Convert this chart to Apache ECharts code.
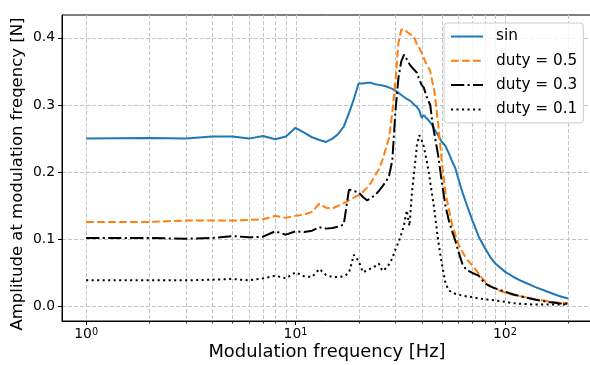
<!DOCTYPE html>
<html>
<head>
<meta charset="utf-8">
<script src="https://cdn.jsdelivr.net/npm/echarts@6/dist/echarts.min.js"></script>
<style>
html,body{margin:0;padding:0;background:#fff;}
#chart{width:590px;height:365px;}
</style>
</head>
<body>
<div id="chart"></div>
<script>
const freqs = [1,2,3,4,5,6,7,8,9,10,11,12,13,14,15,16,17,18,19,20,21,22,23,24,25,26,27,28,29,30,31,32,33,34,35,36,37,38,39,40,41,42,43,44,45,46,48,50,52,54,56,58,60,63,66,70,75,80,85,90,100,110,120,140,160,180,200];

const sinVals = [0.250,0.251,0.250,0.253,0.253,0.250,0.254,0.249,0.253,0.266,
  0.259,0.252,0.248,0.245,0.250,0.257,0.268,0.288,0.309,0.332,
  0.332,0.333,0.333,0.331,0.330,0.329,0.328,0.326,0.324,0.321,
  0.318,0.315,0.312,0.309,0.307,0.304,0.300,0.297,0.292,0.281,
  0.285,0.281,0.278,0.274,0.270,0.264,
  0.255,0.245,0.239,0.228,0.216,0.206,0.190,
  0.168,0.150,0.128,0.104,0.088,0.074,0.064,
  0.052,0.044,0.038,0.029,0.022,0.016,0.012];

const duty05 = [0.126,0.126,0.128,0.128,0.128,0.129,0.130,0.135,0.132,0.135,
  0.137,0.141,0.153,0.147,0.146,0.150,0.154,0.158,0.162,0.166,
  0.171,0.177,0.185,0.195,0.204,0.218,0.235,0.252,0.290,0.335,
  0.392,0.412,0.413,0.409,0.406,0.404,0.400,0.390,0.385,0.378,
  0.370,0.362,0.357,0.350,0.335,0.322,
  0.272,0.215,0.170,0.145,0.122,0.107,0.093,
  0.080,0.070,0.061,0.049,0.038,0.031,0.026,
  0.021,0.017,0.015,0.011,0.008,0.006,0.005];

const duty03 = [0.102,0.102,0.101,0.102,0.105,0.103,0.104,0.112,0.107,0.112,
  0.111,0.113,0.118,0.116,0.117,0.119,0.122,0.174,0.172,0.170,
  0.163,0.158,0.162,0.166,0.172,0.179,0.186,0.195,0.218,0.290,
  0.340,0.365,0.375,0.368,0.361,0.356,0.352,0.348,0.338,0.330,
  0.326,0.315,0.307,0.300,0.275,0.258,
  0.225,0.185,0.150,0.128,0.112,0.098,0.082,
  0.061,0.054,0.050,0.046,0.035,0.030,0.027,
  0.022,0.018,0.015,0.010,0.007,0.005,0.004];

const duty01 = [0.039,0.039,0.039,0.040,0.041,0.039,0.042,0.046,0.042,0.051,
  0.045,0.044,0.056,0.047,0.044,0.044,0.045,0.050,0.077,0.068,
  0.051,0.054,0.057,0.060,0.064,0.053,0.057,0.063,0.072,0.085,
  0.095,0.108,0.122,0.143,0.120,0.170,0.205,0.240,0.255,0.248,
  0.238,0.222,0.205,0.185,0.165,0.145,
  0.098,0.064,0.035,0.024,0.021,0.019,0.018,
  0.016,0.015,0.014,0.012,0.011,0.010,0.009,
  0.007,0.005,0.004,0.003,0.003,0.003,0.003];

const seriesNames = ['sin','duty = 0.5','duty = 0.3','duty = 0.1'];
const xMajorTicks = [1,10,100];
const xGridFreqs = [1,2,3,4,5,6,7,8,9,10,20,30,40,50,60,70,80,90,100,200];
const yTicks = [0,0.1,0.2,0.3,0.4];

const FONT = 'DejaVu Sans';
const pairs = (vals) => freqs.map((f, i) => [f, vals[i]]);

const chart = echarts.init(document.getElementById('chart'), null, {renderer:'canvas'});
const option = {
  animation: false,
  backgroundColor: '#fff',
  textStyle: {fontFamily: FONT},
  grid: {left: 62, top: 15, width: 530, height: 306, show: true, borderColor: '#000', borderWidth: 1, backgroundColor: 'transparent', containLabel: false, outerBoundsMode: 'none'},
  xAxis: {
    type: 'log', logBase: 10, min: 0.767, max: 260.6,
    name: 'Modulation frequency [Hz]', nameLocation: 'middle', nameGap: 22, nameMoveOverlap: false,
    nameTextStyle: {fontFamily: FONT, fontSize: 17.9, color: '#000'},
    axisLine: {show: true, onZero: false, lineStyle: {color: '#000', width: 1}},
    axisTick: {show: true, length: 4, customValues: xMajorTicks, lineStyle: {color: '#000', width: 1}},
    axisLabel: {
      customValues: xMajorTicks, margin: 6, color: '#000', hideOverlap: false,
      formatter: (v) => '{b|10}{s|' + Math.round(Math.log10(v)) + '}',
      rich: {
        b: {fontFamily: FONT, fontSize: 13.9, color: '#000', verticalAlign: 'bottom', lineHeight: 14},
        s: {fontFamily: FONT, fontSize: 9.7, color: '#000', verticalAlign: 'top', lineHeight: 14, padding: [0,0,10,0]}
      }
    },
    splitLine: {show: false}
  },
  yAxis: {
    type: 'value', min: -0.0215, max: 0.434,
    name: 'Amplitude at modulation freqency [N]', nameLocation: 'middle', nameGap: 36, nameMoveOverlap: false,
    nameTextStyle: {fontFamily: FONT, fontSize: 16.5, color: '#000', padding: [0, 12, 0, 0]},
    axisLine: {show: true, lineStyle: {color: '#000', width: 1}},
    axisTick: {show: true, length: 4, customValues: yTicks, lineStyle: {color: '#000', width: 1}},
    axisLabel: {customValues: yTicks, margin: 7, color: '#000', fontFamily: FONT, fontSize: 13.9, formatter: (v) => v.toFixed(1)},
    splitLine: {show: true, lineStyle: {color: '#c4c4c4', width: 1, type: [4, 2]}}
  },
  legend: {
    data: seriesNames, orient: 'vertical', left: 444, top: 23,
    padding: [6, 6, 6, 6], itemGap: 9.3, itemWidth: 32, itemHeight: 14,
    backgroundColor: 'rgba(255,255,255,0.8)', borderColor: '#cccccc', borderWidth: 1, borderRadius: 3,
    textStyle: {fontFamily: FONT, fontSize: 15.3, color: '#000', padding: [0, 0, 0, 8]},
    itemStyle: {opacity: 0}
  },
  series: [
    {
      type: 'custom', name: 'xgrid', silent: true, clip: false, z: 1,
      data: xGridFreqs.map(f => [f, 0]),
      encode: {x: 0, y: 1},
      renderItem: (params, api) => {
        const f = api.value(0);
        const cs = params.coordSys;
        const x = Math.round(api.coord([f, 0])[0]) + 0.5;
        const bottom = cs.y + cs.height;
        const children = [{
          type: 'line', shape: {x1: x, y1: cs.y, x2: x, y2: bottom},
          style: {stroke: '#c4c4c4', lineWidth: 1, lineDash: [4, 2]}
        }];
        if (xMajorTicks.indexOf(f) < 0) {
          children.push({type: 'line', shape: {x1: x, y1: bottom, x2: x, y2: bottom + 2.5}, style: {stroke: '#000', lineWidth: 0.8}});
        }
        return {type: 'group', children: children};
      }
    },
    {name: seriesNames[0], type: 'line', data: pairs(sinVals), symbol: 'none', showSymbol: false, z: 3,
     lineStyle: {color: '#1f77b4', width: 2}, itemStyle: {color: '#1f77b4'}},
    {name: seriesNames[1], type: 'line', data: pairs(duty05), symbol: 'none', showSymbol: false, z: 3,
     lineStyle: {color: '#ff7f0e', width: 2, type: [7.7, 3.3]}, itemStyle: {color: '#ff7f0e'}},
    {name: seriesNames[2], type: 'line', data: pairs(duty03), symbol: 'none', showSymbol: false, z: 3,
     lineStyle: {color: '#000', width: 2, type: [13.3, 3.3, 2.1, 3.3]}, itemStyle: {color: '#000'}},
    {name: seriesNames[3], type: 'line', data: pairs(duty01), symbol: 'none', showSymbol: false, z: 3,
     lineStyle: {color: '#000', width: 2, type: [2.1, 3.4]}, itemStyle: {color: '#000'}}
  ]
};
chart.setOption(option);
</script>
</body>
</html>
